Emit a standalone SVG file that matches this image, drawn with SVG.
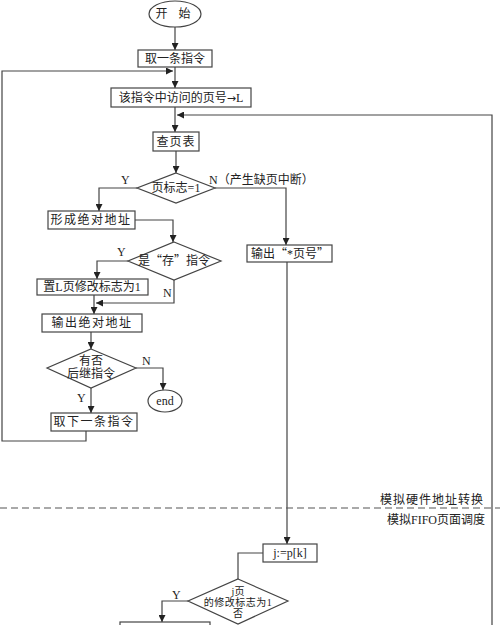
<svg xmlns="http://www.w3.org/2000/svg" width="500" height="625" viewBox="0 0 500 625">
<defs>
<marker id="ah" viewBox="0 0 10 10" refX="10" refY="5" markerWidth="7" markerHeight="7" markerUnits="userSpaceOnUse" orient="auto">
<path d="M0,0 L10,5 L0,10 z" fill="#222"/>
</marker>
<style>
.box{fill:#fff;stroke:#444;stroke-width:1.2}
.ln{fill:none;stroke:#444;stroke-width:1.2}
.la{fill:none;stroke:#444;stroke-width:1.2;marker-end:url(#ah)}
text{font-family:"Liberation Serif","Noto Sans CJK SC",serif;font-size:12px;fill:#222}
.c{text-anchor:middle}
.r{text-anchor:end}
.q{font-family:"Noto Sans CJK SC",sans-serif}
.sm{font-size:10px}
</style>
</defs>
<rect width="500" height="625" fill="#fff"/>
<g id="connectors">
<path class="la" d="M175,27 V50"/>
<path class="la" d="M175,67 V88"/>
<path class="la" d="M86,431 V441 H2 V71 H173"/>
<path class="la" d="M175,107 V132"/>
<path class="la" d="M492,625 V115 H177"/>
<path class="la" d="M176,151 V173"/>
<path class="la" d="M137,188 H99 V211"/>
<path class="la" d="M215,188 H286 V245"/>
<path class="la" d="M135,220 H173 V242"/>
<path class="la" d="M128,261 H97 V279"/>
<path class="la" d="M174,280 V303 H96"/>
<path class="ln" d="M94,295 V303"/>
<path class="la" d="M94,303 V314"/>
<path class="la" d="M91,332 V349"/>
<path class="la" d="M136,368 H163 V390"/>
<path class="la" d="M91,388 V413"/>
<path class="la" d="M287,262 V544"/>
<path class="ln" d="M263,553 H238 V579"/>
<path class="la" d="M188,601 H162 V622"/>
<path d="M0,508 H500" stroke="#555" stroke-width="1.2" stroke-dasharray="7,4" fill="none"/>
</g>
<g id="start"><ellipse class="box" cx="175" cy="14" rx="26" ry="13"/><text class="c" x="175" y="18" letter-spacing="4">开 始</text></g>
<g id="fetch"><rect class="box" x="138" y="50" width="74" height="17"/><text class="c" x="175" y="63">取一条指令</text></g>
<g id="pageno"><rect class="box" x="111" y="88" width="140" height="19"/><text class="c" x="181" y="102">该指令中访问的页号<tspan font-family="DejaVu Sans" font-size="11">→</tspan>L</text></g>
<g id="lookup"><rect class="box" x="153" y="132" width="46" height="19"/><text class="c" x="176" y="146" letter-spacing="1">查页表</text></g>
<g id="flag"><polygon class="box" points="176,173 215,188 176,203 137,188"/><text class="c" x="176" y="192">页标志=1</text></g>
<g id="labels1"><text x="121" y="184">Y</text><text x="209" y="184">N（产生缺页中断）</text></g>
<g id="absaddr"><rect class="box" x="48" y="211" width="87" height="18"/><text class="c" x="91" y="224" letter-spacing="1.5">形成绝对地址</text></g>
<g id="outpage"><rect class="box" x="247" y="245" width="85" height="17"/><text class="c" x="290" y="258">输出<tspan class="q">“</tspan>*页号<tspan class="q">”</tspan></text></g>
<g id="store"><polygon class="box" points="174,242 221,261 174,280 128,261"/><text class="c" x="174" y="265">是<tspan class="q">“</tspan>存<tspan class="q">”</tspan>指令</text><text x="117" y="256">Y</text></g>
<g id="setflag"><rect class="box" x="37" y="279" width="111" height="16"/><text class="c" x="92" y="291">置L页修改标志为1</text><text x="163" y="297">N</text></g>
<g id="outabs"><rect class="box" x="42" y="314" width="100" height="18"/><text class="c" x="92" y="327" letter-spacing="1.5">输出绝对地址</text></g>
<g id="next"><polygon class="box" points="91,349 136,368 91,388 47,368"/><text class="c" x="91" y="365">有否</text><text class="c" x="91" y="378">后继指令</text><text x="142" y="365">N</text><text x="77" y="402">Y</text></g>
<g id="end"><ellipse class="box" cx="165" cy="401" rx="17" ry="11"/><text class="c" x="165" y="405">end</text></g>
<g id="fetchnext"><rect class="box" x="51" y="413" width="86" height="18"/><text class="c" x="94" y="426" letter-spacing="1.5">取下一条指令</text></g>
<g id="region"><text class="r" x="484" y="504" letter-spacing="1">模拟硬件地址转换</text><text class="r" x="485" y="524">模拟FIFO页面调度</text></g>
<g id="jpk"><rect class="box" x="263" y="544" width="54" height="18"/><text class="c" x="290" y="557">j:=p[k]</text></g>
<g id="modflag"><polygon class="box" points="238,579 288,601 238,624 188,601"/><text class="c sm" x="238" y="595">j页</text><text class="c sm" x="238" y="606" letter-spacing="0.5">的修改标志为1</text><text class="c sm" x="238" y="617">否</text><text x="172" y="599">Y</text></g>
<g id="bottombox"><rect class="box" x="120" y="622" width="90" height="20"/></g>
</svg>
